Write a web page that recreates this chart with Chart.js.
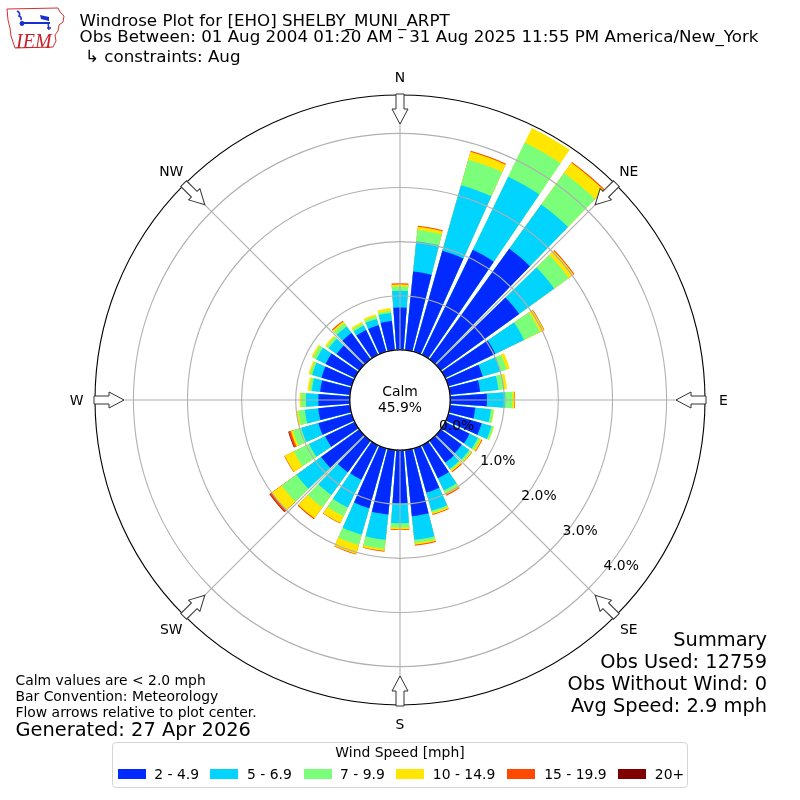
<!DOCTYPE html>
<html>
<head>
<meta charset="utf-8">
<title>Windrose Plot for [EHO] SHELBY_MUNI_ARPT</title>
<script src="https://cdn.jsdelivr.net/npm/chart.js@4.4.1/dist/chart.umd.min.js"></script>
<style>
    html, body { margin: 0; padding: 0; background: #fff; }
    #page { position: relative; width: 800px; height: 800px; overflow: hidden;
            font-family: "DejaVu Sans", sans-serif; color: #000; }
    #rose { position: absolute; left: 0; top: 0; }
    #logo { position: absolute; left: 0; top: 0; }
    .txt { position: absolute; white-space: nowrap; }
    .head { font-size: 16.7px; line-height: 20px; left: 79.5px; }
    .big { font-size: 19.4px; line-height: 22px; }
    .small { font-size: 13.9px; line-height: 16px; }
    .summary { right: 33px; text-align: right; }
    #legend { position: absolute; left: 112px; top: 742px; width: 576px; height: 46px;
              box-sizing: border-box; border: 1px solid #d4d4d4; border-radius: 4px;
              font-size: 13.9px; line-height: 16px; }
    #legend .ttl { position: absolute; left: 0; right: 0; top: 1.3px; text-align: center; }
    #legend .sw { position: absolute; top: 26.2px; width: 27.8px; height: 9.7px; }
    #legend .lab { position: absolute; top: 23.3px; white-space: nowrap; }
</style>
</head>
<body>
<div id="page">
    <canvas id="rose" width="800" height="800"></canvas>

    <svg id="logo" width="70" height="55" viewBox="0 0 70 55">
        <path d="M7,9 L58,8 L60,12 L64,16 L63,22 L59,25 L58,31 L55,35 L56,41 L53,47 L15,48 L13,42 L11,36 L10,28 L8,20 Z"
              fill="none" stroke="#d03030" stroke-width="1"/>
        <path d="M17,11 Q21,13 19,16 Q22,17 21,20" fill="none" stroke="#1a2fd0" stroke-width="1.6"/>
        <line x1="21" y1="23" x2="50" y2="23" stroke="#1a2fd0" stroke-width="2"/>
        <circle cx="22" cy="23.5" r="2.4" fill="#1a2fd0"/>
        <path d="M40,15 L49,17 L49,21 L41,19 Z" fill="#1a2fd0"/>
        <path d="M48,23 L49,30 M47,28 L51,28" fill="none" stroke="#1a2fd0" stroke-width="1.4"/>
        <text x="16" y="48" font-family="Liberation Serif" font-style="italic" font-size="20" fill="#c8202a">IEM</text>
    </svg>

    <div class="txt head" style="top:9.8px">Windrose Plot for [EHO] SHELBY_MUNI_ARPT</div>
    <div class="txt head" style="top:26.4px">Obs Between: 01 Aug 2004 01:20 AM - 31 Aug 2025 11:55 PM America/New_York</div>
    <div class="txt head" style="top:45.6px;left:85px">↳ constraints: Aug</div>

    <div class="txt big summary" style="top:629.4px">Summary</div>
    <div class="txt big summary" style="top:651.4px">Obs Used: 12759</div>
    <div class="txt big summary" style="top:673.4px">Obs Without Wind: 0</div>
    <div class="txt big summary" style="top:695.4px">Avg Speed: 2.9 mph</div>

    <div class="txt small" style="left:15.5px;top:672.3px">Calm values are &lt; 2.0 mph</div>
    <div class="txt small" style="left:15.5px;top:688.3px">Bar Convention: Meteorology</div>
    <div class="txt small" style="left:15.5px;top:704.3px">Flow arrows relative to plot center.</div>
    <div class="txt big" style="left:15.5px;top:719.4px">Generated: 27 Apr 2026</div>

    <div id="legend"><div class="ttl">Wind Speed [mph]</div></div>
</div>

<script>
// Percent of all observations per 10 degree direction bin (bar centres), split by speed class
const directions = [0, 10, 20, 30, 40, 50, 60, 70, 80, 90, 100, 110, 120, 130, 140, 150, 160, 170,
                    180, 190, 200, 210, 220, 230, 240, 250, 260, 270, 280, 290, 300, 310, 320, 330, 340, 350];
const speedBins = ['2 - 4.9', '5 - 6.9', '7 - 9.9', '10 - 14.9', '15 - 19.9', '20+'];
const binColors = ['#002aff', '#00d4ff', '#7bff7b', '#ffe600', '#ff4800', '#800000'];

const speed2to5   = [0.78, 1.46, 1.94, 2.16, 2.52, 1.79, 1.03, 0.66, 0.56, 0.68, 0.47, 0.64, 0.50, 0.48, 0.50, 0.68, 0.85, 1.23,
                     0.98, 1.20, 1.15, 0.71, 0.72, 0.87, 0.61, 0.64, 0.59, 0.58, 0.555, 0.58, 0.60, 0.52, 0.60, 0.51, 0.51, 0.54];
const speed5to7   = [0.31, 0.56, 1.26, 1.50, 1.01, 0.80, 0.59, 0.35, 0.34, 0.34, 0.29, 0.19, 0.17, 0.17, 0.14, 0.25, 0.35, 0.44,
                     0.37, 0.47, 0.51, 0.57, 0.52, 0.56, 0.33, 0.33, 0.25, 0.23, 0.155, 0.18, 0.19, 0.18, 0.15, 0.09, 0.12, 0.15];
const speed7to10  = [0.08, 0.21, 0.49, 0.70, 0.72, 0.33, 0.33, 0.11, 0.11, 0.13, 0.05, 0.04, 0.05, 0.04, 0.03, 0.05, 0.035, 0.06,
                     0.08, 0.17, 0.20, 0.18, 0.28, 0.34, 0.31, 0.16, 0.12, 0.09, 0.04, 0.04, 0.07, 0.05, 0.08, 0.045, 0.05, 0.04];
const speed10to15 = [0.04, 0.06, 0.15, 0.30, 0.23, 0.11, 0.08, 0.06, 0.05, 0.04, 0.01, 0.01, 0.03, 0.02, 0.03, 0.04, 0.03, 0.03,
                     0.035, 0.04, 0.17, 0.14, 0.25, 0.23, 0.19, 0.04, 0.04, 0.03, 0.04, 0.03, 0.03, 0.03, 0.03, 0.035, 0.04, 0.05];
const speed15to20 = [0.02, 0.02, 0.02, 0, 0.02, 0.02, 0.01, 0, 0, 0.01, 0, 0, 0.015, 0.01, 0.02, 0.02, 0.015, 0.02,
                     0.01, 0.01, 0.01, 0.01, 0.02, 0.04, 0.01, 0.04, 0, 0, 0, 0, 0, 0, 0.02, 0, 0, 0];
const speed20up   = [0, 0, 0, 0, 0, 0, 0, 0, 0, 0, 0, 0, 0, 0, 0, 0, 0, 0,
                     0, 0, 0, 0, 0, 0.01, 0, 0.01, 0, 0, 0, 0, 0, 0, 0, 0, 0, 0];

const calmPercent = 45.9;
const radialTicks = [0, 1, 2, 3, 4];
const compassNames = ['N', 'NE', 'E', 'SE', 'S', 'SW', 'W', 'NW'];

// Radial axis: 0 % sits on the calm circle, the outer edge is at 4.71 %
const R_MIN = -0.928;
const R_MAX = 4.71;
const BAR_DEG = 8.3;   // angular width of one bar
const GAP_DEG = 1.7;   // white gap between neighbouring bars
const EMPTY = R_MIN + 0.01;

const binValues = [speed2to5, speed5to7, speed7to10, speed10to15, speed15to20, speed20up];

/**
 * Cumulative values up to speed class `upto`, one slot per bar followed by an empty gap slot
 */
function stackedRing(upto) {
    const out = [];
    directions.forEach((dir, i) => {
        let sum = 0;
        for (let b = 0; b <= upto; b++) {
            sum += binValues[b][i];
        }
        out.push(binValues[upto][i] > 0 ? sum : EMPTY, EMPTY);
    });
    return out;
}

const slotLabels = [];
directions.forEach(dir => slotLabels.push(dir + '°', ''));

// Compass arrows, direction names, calm circle and the percent labels
const roseDecor = {
    id: 'roseDecor',
    afterDraw(chart) {
        const s = chart.scales.dir;
        const ctx = chart.ctx;
        const cx = s.xCenter;
        const cy = s.yCenter;
        const R = s.drawingArea;

        ctx.save();
        ctx.beginPath();
        ctx.arc(cx, cy, R, 0, Math.PI * 2);
        ctx.strokeStyle = '#000';
        ctx.lineWidth = 1.1;
        ctx.stroke();

        const r0 = s.getDistanceFromCenterForValue(0);
        ctx.beginPath();
        ctx.arc(cx, cy, r0, 0, Math.PI * 2);
        ctx.fillStyle = '#fff';
        ctx.fill();
        ctx.lineWidth = 1.3;
        ctx.stroke();

        ctx.font = '13.9px "DejaVu Sans"';
        ctx.textAlign = 'center';
        ctx.textBaseline = 'alphabetic';
        ctx.fillStyle = '#000';
        ctx.fillText('Calm', cx, cy - 4);
        ctx.fillText(calmPercent.toFixed(1) + '%', cx, cy + 12);

        const la = 130.5 * Math.PI / 180;
        radialTicks.forEach(v => {
            const r = s.getDistanceFromCenterForValue(v);
            ctx.fillText(v.toFixed(1) + '%', cx + r * Math.sin(la) + 18.5, cy - r * Math.cos(la) - 8 + 5);
        });

        compassNames.forEach((name, k) => {
            const a = k * Math.PI / 4;
            ctx.save();
            ctx.translate(cx, cy);
            ctx.rotate(a);
            ctx.beginPath();
            ctx.moveTo(-4, -(R + 1));
            ctx.lineTo(4, -(R + 1));
            ctx.lineTo(4, -(R - 14));
            ctx.lineTo(8, -(R - 14));
            ctx.lineTo(0, -(R - 29));
            ctx.lineTo(-8, -(R - 14));
            ctx.lineTo(-4, -(R - 14));
            ctx.closePath();
            ctx.fillStyle = '#fff';
            ctx.fill();
            ctx.strokeStyle = '#333';
            ctx.lineWidth = 1;
            ctx.stroke();
            ctx.restore();

            ctx.fillStyle = '#000';
            ctx.fillText(name, cx + (R + 18.5) * Math.sin(a), cy - (R + 18.5) * Math.cos(a) + 5);
        });
        ctx.restore();
    }
};

new Chart(document.getElementById('rose'), {
    type: 'polarArea',
    data: {
        labels: slotLabels,
        datasets: speedBins.map((name, b) => ({
            label: name,
            data: stackedRing(b),
            backgroundColor: binColors[b],
            borderWidth: 0,
            rAxisID: 'r',
            angle: c => (c.dataIndex % 2 ? GAP_DEG : BAR_DEG)
        }))
    },
    options: {
        responsive: false,
        animation: false,
        events: [],
        layout: { padding: 95 },
        plugins: {
            legend: { display: false },
            tooltip: { enabled: false }
        },
        scales: {
            r: {
                type: 'radialLinear',
                display: false,
                min: R_MIN,
                max: R_MAX,
                beginAtZero: false,
                startAngle: -BAR_DEG / 2,
                ticks: { display: false }
            },
            dir: {
                type: 'radialLinear',
                axis: 'r',
                labels: compassNames,
                min: R_MIN,
                max: R_MAX,
                startAngle: 0,
                ticks: { display: false, stepSize: 1, includeBounds: false },
                pointLabels: { display: false },
                grid: { circular: true, color: '#b0b0b0', lineWidth: 1.1, z: 1 },
                angleLines: { display: true, color: '#b0b0b0', lineWidth: 1.1 }
            }
        }
    },
    plugins: [roseDecor]
});

// Legend, same layout as the reference box
const legend = document.getElementById('legend');
const swatchLeft = [5.2, 97.3, 190.8, 282.9, 394.3, 505];
const labelLeft = [41.3, 134.1, 227, 319.8, 431.2, 541.8];
speedBins.forEach((name, b) => {
    const sw = document.createElement('div');
    sw.className = 'sw';
    sw.style.left = swatchLeft[b] + 'px';
    sw.style.background = binColors[b];
    legend.appendChild(sw);
    const lab = document.createElement('div');
    lab.className = 'lab';
    lab.style.left = labelLeft[b] + 'px';
    lab.textContent = name;
    legend.appendChild(lab);
});
</script>
</body>
</html>
